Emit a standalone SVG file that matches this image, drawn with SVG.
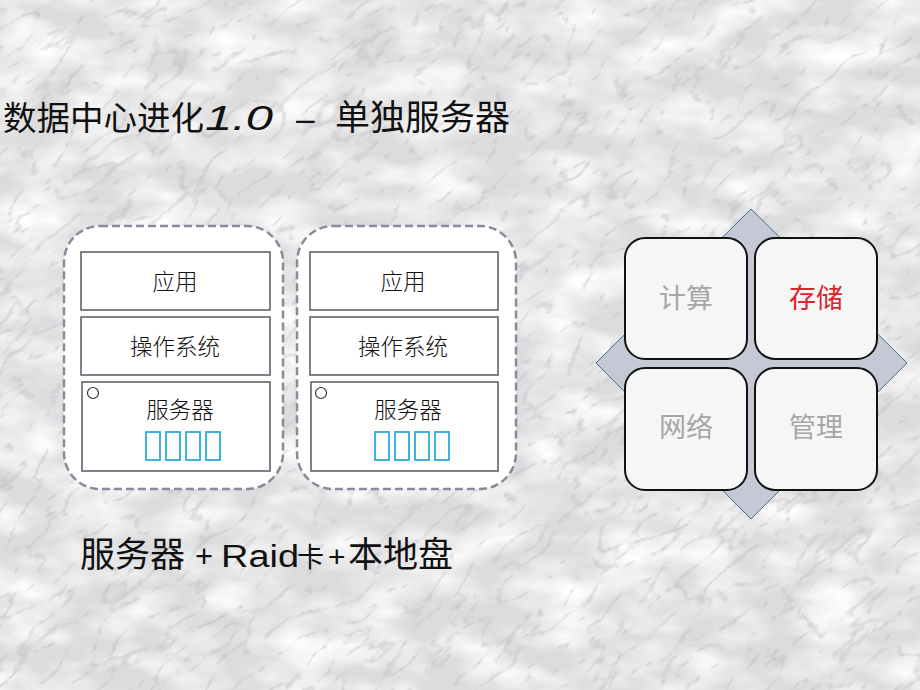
<svg xmlns="http://www.w3.org/2000/svg" width="920" height="690" viewBox="0 0 920 690">
<defs>
<filter id="clouds" x="0" y="0" width="100%" height="100%">
<feTurbulence type="fractalNoise" baseFrequency="0.015 0.03" numOctaves="3" seed="3" result="n"/>
<feColorMatrix type="matrix" values="0 0 0 0 1  0 0 0 0 1  0 0 0 0 1  2 0 0 0 -0.7" in="n"/>
</filter>
<filter id="veins" x="0" y="0" width="100%" height="100%">
<feTurbulence type="turbulence" baseFrequency="0.02 0.045" numOctaves="4" seed="11" result="t"/>
<feColorMatrix type="matrix" values="0 0 0 0 0.5  0 0 0 0 0.5  0 0 0 0 0.53  -3.2 0 0 0 0.66" in="t"/>
</filter>
<style>
.cjk{font-family:"Noto Sans CJK SC","Noto Sans",sans-serif;}
.lat{font-family:"Liberation Sans",Arial,sans-serif;}
.outer{fill:#ffffff;stroke:#878b9a;stroke-width:2.5;stroke-dasharray:8 4;}
.layer{fill:#ffffff;stroke:#555b63;stroke-width:1.5;}
.lt{font-size:22.5px;font-weight:300;fill:#111;text-anchor:middle;}
.disk{fill:none;stroke:#2aabe0;stroke-width:1.8;}
.tile{fill:#f6f6f6;stroke:#111;stroke-width:2;}
.tt{font-size:27px;fill:#a6a6a6;text-anchor:middle;}
</style>
</defs>
<rect width="920" height="690" fill="#dcdcde"/>
<rect width="920" height="690" filter="url(#clouds)"/>
<g transform="rotate(-40 460 345)">
<rect x="-300" y="-300" width="1520" height="1290" filter="url(#veins)"/>
</g>

<text class="cjk" y="130" font-size="33.5" fill="#111"><tspan x="3">数据中心进化</tspan><tspan x="205" class="lat" font-style="italic" font-size="35" textLength="68" lengthAdjust="spacingAndGlyphs">1.0</tspan><tspan x="296" class="lat">–</tspan><tspan x="335" font-size="35">单独服务器</tspan></text>

<g id="server1">
<rect class="outer" x="64" y="226" width="219" height="263" rx="36"/>
<rect class="layer" x="81" y="252" width="189" height="58"/>
<text class="cjk lt" x="175" y="290">应用</text>
<rect class="layer" x="81" y="317" width="189" height="58"/>
<text class="cjk lt" x="175" y="355">操作系统</text>
<rect class="layer" x="82" y="382" width="188" height="89"/>
<circle cx="93" cy="393" r="5.5" fill="none" stroke="#333" stroke-width="1.2"/>
<text class="cjk lt" x="180" y="418">服务器</text>
<rect class="disk" x="146" y="432" width="14" height="28"/>
<rect class="disk" x="166" y="432" width="14" height="28"/>
<rect class="disk" x="186" y="432" width="14" height="28"/>
<rect class="disk" x="206" y="432" width="14" height="28"/>
</g>

<g id="server2">
<rect class="outer" x="297" y="226" width="219" height="263" rx="36"/>
<rect class="layer" x="310" y="252" width="188" height="58"/>
<text class="cjk lt" x="403" y="290">应用</text>
<rect class="layer" x="310" y="317" width="188" height="58"/>
<text class="cjk lt" x="403" y="355">操作系统</text>
<rect class="layer" x="311" y="382" width="187" height="89"/>
<circle cx="321" cy="393" r="5.5" fill="none" stroke="#333" stroke-width="1.2"/>
<text class="cjk lt" x="408" y="418">服务器</text>
<rect class="disk" x="375" y="432" width="14" height="28"/>
<rect class="disk" x="395" y="432" width="14" height="28"/>
<rect class="disk" x="415" y="432" width="14" height="28"/>
<rect class="disk" x="435" y="432" width="14" height="28"/>
</g>

<text class="cjk" y="567" font-size="35" fill="#111"><tspan x="80">服务器</tspan><tspan x="195" class="lat" font-size="31">+</tspan><tspan x="221" class="lat" font-size="31" textLength="78" lengthAdjust="spacingAndGlyphs">Raid</tspan><tspan x="297" font-size="27">卡</tspan><tspan x="328" class="lat" font-size="30">+</tspan><tspan x="348">本地盘</tspan></text>

<g id="matrix">
<polygon points="751,209 907,363 751,519 596,363" fill="#c5c9d5" stroke="#4a6b8f" stroke-width="1"/>
<g id="compute">
<rect class="tile" x="625" y="238" width="122" height="121" rx="20"/>
<text class="cjk tt" x="686" y="308">计算</text>
</g>
<g id="storage">
<rect class="tile" x="755" y="238" width="122" height="121" rx="20"/>
<text class="cjk tt" x="816" y="308" style="fill:#d8262c">存储</text>
</g>
<g id="network">
<rect class="tile" x="625" y="368" width="122" height="122" rx="20"/>
<text class="cjk tt" x="686" y="437">网络</text>
</g>
<g id="manage">
<rect class="tile" x="755" y="368" width="122" height="122" rx="20"/>
<text class="cjk tt" x="816" y="437">管理</text>
</g>
</g>
</svg>
